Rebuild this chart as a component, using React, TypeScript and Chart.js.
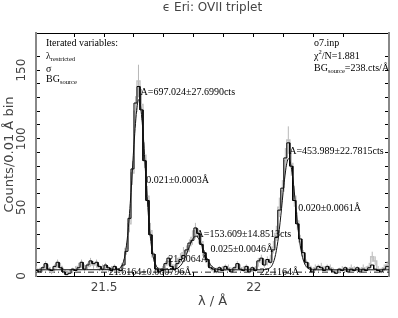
import React, { useEffect, useRef } from 'react';
import { Chart, registerables } from 'chart.js';

Chart.register(...registerables);

// ---------------- data ----------------
const TITLE = 'ϵ Eri: OVII triplet';
const X_TITLE = 'λ / Å';
const Y_TITLE = 'Counts/0.01 Å bin';

const X_MIN = 21.273;
const X_MAX = 22.451;
const Y_MIN = 0;
const Y_MAX = 177;
const X_TICK_STEP = 0.1;
const Y_TICK_STEP = 10;
const X_TICK_LABELS = [21.5, 22];
const Y_TICK_LABELS = [0, 50, 100, 150];

// histogram bins (0.01 Å)
const BIN_START = 21.27;
const BIN_WIDTH = 0.01;

// black histogram (observed counts)
const countsBlack = [
  4, 3, 6, 9, 5, 4, 7, 10, 6, 3,
  1, 2, 5, 4, 6, 10, 5, 8, 11, 9,
  10, 7, 5, 8, 6, 4, 7, 5, 4, 8,
  18, 42, 78, 126, 138, 121, 84, 55, 30, 16,
  5, 3, 4, 9, 13, 7, 5, 9, 12, 15,
  19, 24, 26, 35, 31, 23, 17, 12, 6, 5,
  3, 6, 4, 7, 5, 3, 6, 9, 5, 4,
  7, 3, 6, 4, 11, 13, 8, 12, 10, 19,
  28, 48, 64, 86, 97, 80, 55, 38, 27, 17,
  10, 6, 3, 5, 7, 6, 4, 7, 5, 3,
  2, 5, 4, 6, 3, 5, 4, 6, 3, 5,
  4, 6, 8, 5, 4, 3, 5, 7,
];

// grey histogram (second spectrum) and its error bars
const countsGray = [
  5, 4, 5, 8, 6, 3, 6, 9, 7, 4,
  2, 3, 4, 5, 7, 9, 6, 7, 10, 8,
  9, 6, 6, 7, 5, 5, 6, 4, 5, 9,
  20, 38, 75, 120, 142, 125, 88, 58, 33, 14,
  6, 4, 5, 8, 11, 8, 6, 10, 13, 17,
  18, 22, 28, 33, 29, 25, 15, 10, 7, 4,
  4, 5, 5, 6, 6, 4, 5, 8, 6, 5,
  6, 4, 5, 5, 10, 12, 9, 11, 12, 21,
  31, 50, 62, 84, 99, 82, 58, 40, 25, 15,
  9, 7, 4, 6, 6, 7, 5, 6, 6, 4,
  3, 4, 5, 5, 4, 6, 5, 5, 4, 6,
  5, 7, 14, 11, 5, 4, 6, 8,
];
const errGray = [
  2.2, 2.0, 2.2, 2.8, 2.4, 1.7, 2.4, 3.0, 2.6, 2.0,
  1.4, 1.7, 2.0, 2.2, 2.6, 3.0, 2.4, 2.6, 3.2, 2.8,
  3.0, 2.4, 2.4, 2.6, 2.2, 2.2, 2.4, 2.0, 2.2, 3.0,
  4.5, 6.2, 8.7, 11.0, 11.9, 11.2, 9.4, 7.6, 5.7, 3.7,
  2.4, 2.0, 2.2, 2.8, 3.3, 2.8, 2.4, 3.2, 3.6, 4.1,
  4.2, 4.7, 5.3, 5.7, 5.4, 5.0, 3.9, 3.2, 2.6, 2.0,
  2.0, 2.2, 2.2, 2.4, 2.4, 2.0, 2.2, 2.8, 2.4, 2.2,
  2.4, 2.0, 2.2, 2.2, 3.2, 3.5, 3.0, 3.3, 3.5, 4.6,
  5.6, 7.1, 7.9, 9.2, 10.0, 9.1, 7.6, 6.3, 5.0, 3.9,
  3.0, 2.6, 2.0, 2.4, 2.4, 2.6, 2.2, 2.4, 2.4, 2.0,
  1.7, 2.0, 2.2, 2.2, 2.0, 2.4, 2.2, 2.2, 2.0, 2.4,
  2.2, 2.6, 3.7, 3.3, 2.2, 2.0, 2.4, 2.8,
];

// fitted model curve
const modelLambda = [
  21.273, 21.54, 21.55, 21.56, 21.57, 21.58, 21.59, 21.60, 21.61, 21.6164,
  21.62, 21.63, 21.64, 21.65, 21.66, 21.67, 21.68, 21.69, 21.72, 21.73,
  21.74, 21.75, 21.76, 21.77, 21.78, 21.79, 21.80, 21.8064, 21.81, 21.82,
  21.83, 21.84, 21.85, 21.86, 21.87, 21.88, 21.90, 22.03, 22.04, 22.05,
  22.06, 22.07, 22.08, 22.09, 22.10, 22.11, 22.1164, 22.12, 22.13, 22.14,
  22.15, 22.16, 22.17, 22.18, 22.19, 22.20, 22.451,
];
const modelCounts = [
  4.5, 4.6, 5.3, 7.8, 15.3, 32.2, 60.8, 95.9, 122.9, 128.5,
  126.6, 105.1, 70.5, 39.0, 18.9, 9.3, 5.8, 4.8, 4.6, 4.7,
  5.2, 6.4, 8.9, 13.0, 18.5, 24.3, 28.2, 29.0, 28.8, 25.6,
  20.2, 14.4, 9.9, 7.0, 5.5, 4.8, 4.5, 4.5, 4.7, 5.4,
  7.5, 13.3, 25.1, 43.9, 65.8, 82.2, 85.5, 84.4, 71.4, 50.1,
  29.7, 15.9, 8.7, 5.7, 4.8, 4.5, 4.5,
];

const BG_LEVEL = 2.8; // dash-dot background line

// text annotations in data coordinates
const annLambda = [21.622, 21.641, 22.118, 22.148, 21.809, 21.855, 21.714, 21.516, 22.02];
const annCounts = [134, 70, 91, 49, 30.6, 19.7, 12.4, 2.9, 2.9];
const annText = [
  'A=697.024±27.6990cts',
  '0.021±0.0003Å',
  'A=453.989±22.7815cts',
  '0.020±0.0061Å',
  'A=153.609±14.8513cts',
  '0.025±0.0046Å',
  '21.8064Å',
  '21.6164±0.000796Å',
  '22.1164Å',
];

// ---------------- helpers ----------------
const SANS = "'DejaVu Sans', sans-serif";
const SERIF = "'Liberation Serif', 'DejaVu Serif', serif";

type Part = [string, number, number]; // text, font size, vertical shift

function drawRich(ctx: CanvasRenderingContext2D, x: number, y: number, parts: Part[]) {
  let cx = x;
  for (const [t, size, dy] of parts) {
    ctx.font = `${size}px ${SERIF}`;
    ctx.fillText(t, cx, y + dy);
    cx += ctx.measureText(t).width;
  }
}

const textPlugin = {
  id: 'textPlugin',
  afterDraw(chart: any) {
    const ctx: CanvasRenderingContext2D = chart.ctx;
    const area = chart.chartArea;
    const xs = chart.scales.x;
    const ys = chart.scales.y;
    ctx.save();
    // title
    ctx.fillStyle = '#444';
    ctx.textAlign = 'center';
    ctx.textBaseline = 'middle';
    ctx.font = `12px ${SANS}`;
    ctx.fillText(TITLE, (area.left + area.right) / 2, 8);

    ctx.fillStyle = '#000';
    ctx.textAlign = 'left';
    ctx.textBaseline = 'middle';
    // line annotations
    ctx.font = `10px ${SERIF}`;
    for (let i = 0; i < annText.length; i++) {
      ctx.fillText(annText[i], xs.getPixelForValue(annLambda[i]), ys.getPixelForValue(annCounts[i]));
    }
    // left block
    const lx = area.left + 10;
    drawRich(ctx, lx, area.top + 10, [['Iterated variables:', 10, 0]]);
    drawRich(ctx, lx, area.top + 23, [['λ', 10, 0], ['restricted', 6.5, 3]]);
    drawRich(ctx, lx, area.top + 36, [['σ', 10, 0]]);
    drawRich(ctx, lx, area.top + 46, [['BG', 10, 0], ['source', 6.5, 3]]);
    // right block
    const rx = area.left + 278;
    drawRich(ctx, rx, area.top + 10, [['o7.inp', 10, 0]]);
    drawRich(ctx, rx, area.top + 23, [['χ', 10, 0], ['2', 6.5, -4], ['/N=1.881', 10, 0]]);
    drawRich(ctx, rx, area.top + 35, [['BG', 10, 0], ['source', 6.5, 3], ['=238.cts/Å', 10, 0]]);
    ctx.restore();
  },
};

function tickLabelX(v: number) {
  const hit = X_TICK_LABELS.find((t) => Math.abs(t - v) < 1e-6);
  return hit === undefined ? '' : String(hit);
}
function tickLabelY(v: number) {
  const hit = Y_TICK_LABELS.find((t) => Math.abs(t - v) < 1e-6);
  return hit === undefined ? '' : String(hit);
}

const gridOpts = {
  drawOnChartArea: false,
  drawTicks: true,
  tickLength: -4,
  color: '#000',
  lineWidth: 1,
};

export default function App() {
  const ref = useRef<HTMLCanvasElement>(null);

  useEffect(() => {
    const histBlack: any[] = [];
    const histGray: any[] = [];
    const errBars: any[] = [];
    for (let i = 0; i < countsBlack.length; i++) {
      const left = BIN_START + i * BIN_WIDTH;
      const right = left + BIN_WIDTH;
      histBlack.push({ x: left, y: countsBlack[i] }, { x: right, y: countsBlack[i] });
    }
    for (let i = 0; i < countsGray.length; i++) {
      const left = BIN_START + i * BIN_WIDTH;
      const right = left + BIN_WIDTH;
      const c = left + BIN_WIDTH / 2;
      histGray.push({ x: left, y: countsGray[i] }, { x: right, y: countsGray[i] });
      errBars.push(
        { x: c, y: countsGray[i] - errGray[i] },
        { x: c, y: countsGray[i] + errGray[i] },
        { x: c, y: null }
      );
    }
    const model = modelLambda.map((l, i) => ({ x: l, y: modelCounts[i] }));
    const bgLine = [
      { x: X_MIN, y: BG_LEVEL },
      { x: X_MAX, y: BG_LEVEL },
    ];

    const chart = new Chart(ref.current as HTMLCanvasElement, {
      type: 'line',
      data: {
        datasets: [
          {
            label: 'model',
            data: model,
            borderColor: '#111',
            borderWidth: 1,
            pointRadius: 0,
            cubicInterpolationMode: 'monotone',
            order: 0,
          },
          {
            label: 'data',
            data: histBlack,
            borderColor: '#000',
            borderWidth: 1,
            pointRadius: 0,
            tension: 0,
            order: 1,
          },
          {
            label: 'errors',
            data: errBars,
            borderColor: '#b8b8b8',
            borderWidth: 1,
            pointRadius: 0,
            spanGaps: false,
            order: 3,
          },
          {
            label: 'data2',
            data: histGray,
            borderColor: '#c4c4c4',
            borderWidth: 1.5,
            pointRadius: 0,
            tension: 0,
            order: 2,
          },
          {
            label: 'bg',
            data: bgLine,
            borderColor: '#222',
            borderWidth: 1,
            borderDash: [6, 3, 1, 3],
            pointRadius: 0,
            order: 4,
          },
        ],
      } as any,
      options: {
        responsive: false,
        devicePixelRatio: 1,
        animation: false,
        events: [],
        layout: { padding: 0 },
        plugins: {
          legend: { display: false },
          tooltip: { enabled: false },
          title: { display: false },
        },
        scales: {
          x: {
            type: 'linear',
            position: 'bottom',
            min: X_MIN,
            max: X_MAX,
            afterFit: (s: any) => {
              s.height = 42;
            },
            ticks: {
              stepSize: X_TICK_STEP,
              autoSkip: false,
              minRotation: 0,
              maxRotation: 0,
              padding: 9,
              color: '#444',
              font: { family: SANS, size: 12 },
              callback: (v: any) => tickLabelX(Number(v)),
            },
            grid: gridOpts,
            border: { display: true, color: '#000', width: 1 },
            title: {
              display: true,
              text: X_TITLE,
              color: '#444',
              font: { family: SANS, size: 13 },
              padding: { top: 0, bottom: 9 },
            },
          },
          x2: {
            type: 'linear',
            position: 'top',
            min: X_MIN,
            max: X_MAX,
            afterFit: (s: any) => {
              s.height = 33;
            },
            ticks: { display: false, stepSize: X_TICK_STEP, autoSkip: false },
            grid: gridOpts,
            border: { display: true, color: '#000', width: 1 },
          },
          y: {
            type: 'linear',
            position: 'left',
            min: Y_MIN,
            max: Y_MAX,
            afterFit: (s: any) => {
              s.width = 36;
            },
            ticks: {
              stepSize: Y_TICK_STEP,
              autoSkip: false,
              minRotation: 90,
              maxRotation: 90,
              crossAlign: 'center',
              padding: 6.5,
              color: '#444',
              font: { family: SANS, size: 12 },
              callback: (v: any) => tickLabelY(Number(v)),
            },
            grid: gridOpts,
            border: { display: true, color: '#888', width: 2 },
            title: {
              display: true,
              text: Y_TITLE,
              color: '#444',
              font: { family: SANS, size: 13 },
              padding: { top: 2, bottom: 0 },
            },
          },
          y2: {
            type: 'linear',
            position: 'right',
            min: Y_MIN,
            max: Y_MAX,
            afterFit: (s: any) => {
              s.width = 4;
            },
            ticks: { display: false, stepSize: Y_TICK_STEP, autoSkip: false },
            grid: gridOpts,
            border: { display: true, color: '#888', width: 2 },
          },
        },
      } as any,
      plugins: [textPlugin],
    });
    return () => chart.destroy();
  }, []);

  return (
    <div style={{ position: 'fixed', left: 0, top: 0, width: 398, height: 318, background: '#fff' }}>
      <canvas ref={ref} width={398} height={318} style={{ display: 'block', width: 398, height: 318 }} />
    </div>
  );
}
